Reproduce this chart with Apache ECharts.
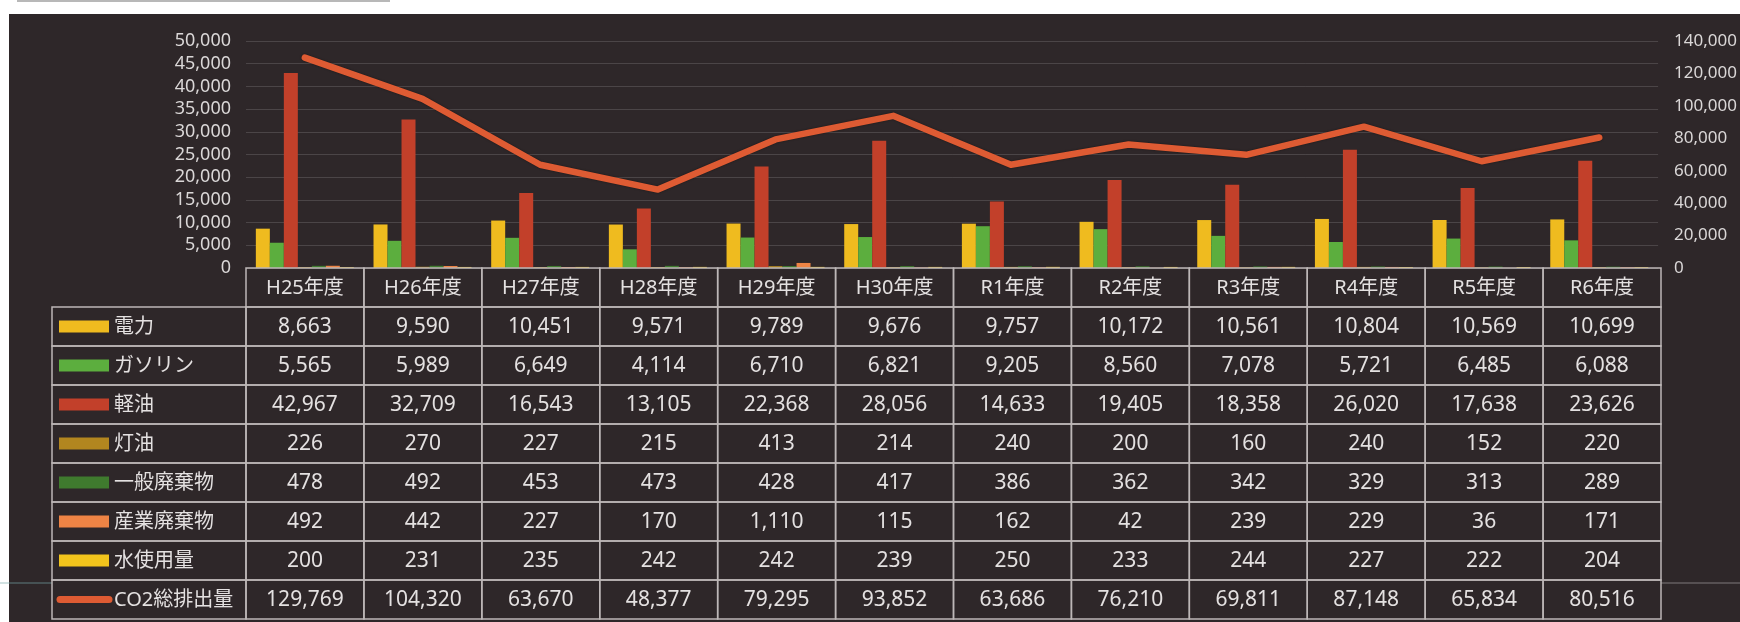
<!DOCTYPE html>
<html>
<head>
<meta charset="utf-8">
<script src="https://cdn.jsdelivr.net/npm/echarts@6/dist/echarts.min.js"></script>
<style>
  html, body { margin: 0; padding: 0; background: #ffffff; }
  #chart {
    position: absolute; left: 0; top: 0; width: 1740px; height: 622px;
    background:
      linear-gradient(#ffffff, #ffffff) left top / 100% 14px no-repeat,
      linear-gradient(#ffffff, #ffffff) left top / 9px 100% no-repeat,
      #2e2729;
  }
</style>
</head>
<body>
<div id="chart"></div>
<script>
// Fiscal years
const years = ['H25年度','H26年度','H27年度','H28年度','H29年度','H30年度','R1年度','R2年度','R3年度','R4年度','R5年度','R6年度'];

// Emission sources (bars, left axis)
const denryoku   = [8663, 9590, 10451, 9571, 9789, 9676, 9757, 10172, 10561, 10804, 10569, 10699];
const gasoline   = [5565, 5989, 6649, 4114, 6710, 6821, 9205, 8560, 7078, 5721, 6485, 6088];
const keiyu      = [42967, 32709, 16543, 13105, 22368, 28056, 14633, 19405, 18358, 26020, 17638, 23626];
const touyu      = [226, 270, 227, 215, 413, 214, 240, 200, 160, 240, 152, 220];
const ippanHaiki = [478, 492, 453, 473, 428, 417, 386, 362, 342, 329, 313, 289];
const sangyoHaiki= [492, 442, 227, 170, 1110, 115, 162, 42, 239, 229, 36, 171];
const mizu       = [200, 231, 235, 242, 242, 239, 250, 233, 244, 227, 222, 204];

// Total CO2 (line, right axis)
const co2Total   = [129769, 104320, 63670, 48377, 79295, 93852, 63686, 76210, 69811, 87148, 65834, 80516];

// Axis tick settings
const leftMax = 50000, leftStep = 5000;
const rightMax = 140000, rightStep = 20000;

const seriesNames  = ['電力','ガソリン','軽油','灯油','一般廃棄物','産業廃棄物','水使用量','CO2総排出量'];
const seriesValues = [denryoku, gasoline, keiyu, touyu, ippanHaiki, sangyoHaiki, mizu, co2Total];
const seriesColors = ['#efbb1f','#5cae3e','#c2402a','#b2861f','#3f7a2e','#ee8445','#f2c41c','#de5b33'];

const FONT = '"Noto Sans", "Noto Sans CJK JP", sans-serif';
const TEXT = '#e4e1e1';
const BORDER = '#bdb7b7';
const LEGEND_W = 194;

const fmt = v => Number(v).toLocaleString('en-US');

// Table rows: header + one row per series
const tableRows = ['header'].concat(seriesNames);

// Cells of the data table: [column, row, text]
const tableCells = [];
years.forEach((y, c) => tableCells.push([c, 0, y]));
seriesValues.forEach((vals, s) => vals.forEach((v, c) => tableCells.push([c, s + 1, fmt(v)])));

// Legend column cells: [column, row, seriesIndex]
const legendCells = seriesNames.map((n, s) => [0, s + 1, s]);

function renderCell(params, api) {
  const c = api.coord([api.value(0), api.value(1)]);
  const s = api.size([1, 1]);
  const isHeader = api.value(1) === 0;
  return {
    type: 'group',
    children: [
      { type: 'rect', shape: { x: c[0] - s[0] / 2, y: c[1] - s[1] / 2, width: s[0], height: s[1] },
        style: { fill: 'none', stroke: BORDER, lineWidth: 1.5 } },
      { type: 'text', style: { text: tableCells[params.dataIndex][2], x: c[0], y: c[1] + 1,
        align: 'center', verticalAlign: 'middle', fill: TEXT,
        fontSize: isHeader ? 20 : 21, fontFamily: FONT } }
    ]
  };
}

function renderLegendCell(params, api) {
  const c = api.coord([0, api.value(1)]);
  const s = api.size([1, 1]);
  const x0 = c[0] - s[0] / 2 - LEGEND_W;
  const y0 = c[1] - s[1] / 2;
  const idx = legendCells[params.dataIndex][2];
  const isLine = idx === seriesNames.length - 1;
  const swatch = isLine
    ? { type: 'line', shape: { x1: x0 + 8, y1: c[1], x2: x0 + 57, y2: c[1] },
        style: { stroke: seriesColors[idx], lineWidth: 7, lineCap: 'round' } }
    : { type: 'rect', shape: { x: x0 + 7, y: c[1] - 6, width: 50, height: 12 },
        style: { fill: seriesColors[idx] } };
  return {
    type: 'group',
    children: [
      { type: 'rect', shape: { x: x0, y: y0, width: LEGEND_W, height: s[1] },
        style: { fill: 'none', stroke: BORDER, lineWidth: 1.5 } },
      swatch,
      { type: 'text', style: { text: seriesNames[idx], x: x0 + 62, y: c[1] + 1,
        align: 'left', verticalAlign: 'middle', fill: TEXT, fontSize: 20, fontFamily: FONT } }
    ]
  };
}

const chart = echarts.init(document.getElementById('chart'), null, { renderer: 'canvas' });

const barSeries = seriesNames.slice(0, 7).map((name, i) => ({
  name, type: 'bar', xAxisIndex: 0, yAxisIndex: 0,
  data: seriesValues[i], barWidth: 14, barGap: '0%',
  itemStyle: { color: seriesColors[i] }, z: 2
}));

chart.setOption({
  backgroundColor: 'transparent',
  animation: false,
  grid: [
    { left: 246, right: 79, top: 41, height: 227 },
    { left: 246, right: 79, top: 268, height: 351 }
  ],
  xAxis: [
    { type: 'category', gridIndex: 0, data: years,
      axisLine: { show: false }, axisTick: { show: false }, axisLabel: { show: false } },
    { type: 'category', gridIndex: 1, data: years, show: false }
  ],
  yAxis: [
    { type: 'value', gridIndex: 0, min: 0, max: leftMax, interval: leftStep, position: 'left',
      axisLine: { show: false }, axisTick: { show: false },
      axisLabel: { color: '#dad7d7', fontSize: 18, fontFamily: FONT, margin: 15, formatter: fmt },
      splitLine: { lineStyle: { color: 'rgba(255,255,255,0.14)', width: 1 } } },
    { type: 'value', gridIndex: 0, min: 0, max: rightMax, interval: rightStep, position: 'right',
      axisLine: { show: false }, axisTick: { show: false },
      axisLabel: { color: '#dad7d7', fontSize: 17, fontFamily: FONT, margin: 16, formatter: fmt,
        padding: [0, 0, 10, 0] },
      splitLine: { show: false } },
    { type: 'category', gridIndex: 1, data: tableRows, inverse: true, show: false }
  ],
  series: barSeries.concat([
    { name: seriesNames[7], type: 'line', xAxisIndex: 0, yAxisIndex: 1, data: co2Total,
      symbol: 'none', z: 5,
      lineStyle: { color: seriesColors[7], width: 6.5, join: 'round', cap: 'round',
        shadowColor: 'rgba(0,0,0,0.5)', shadowBlur: 2 } },
    { type: 'custom', xAxisIndex: 1, yAxisIndex: 2, data: tableCells, renderItem: renderCell, z: 3 },
    { type: 'custom', xAxisIndex: 1, yAxisIndex: 2, data: legendCells, renderItem: renderLegendCell, z: 3 }
  ]),
  graphic: [
    { type: 'line', shape: { x1: 0, y1: 583, x2: 52, y2: 583 },
      style: { stroke: 'rgba(120,170,170,0.45)', lineWidth: 1.5 } },
    { type: 'line', shape: { x1: 1661, y1: 583, x2: 1740, y2: 583 },
      style: { stroke: 'rgba(200,200,200,0.35)', lineWidth: 1.5 } },
    { type: 'rect', shape: { x: 17, y: 0, width: 373, height: 2 },
      style: { fill: '#b8b8b8' } }
  ]
});
</script>
</body>
</html>
